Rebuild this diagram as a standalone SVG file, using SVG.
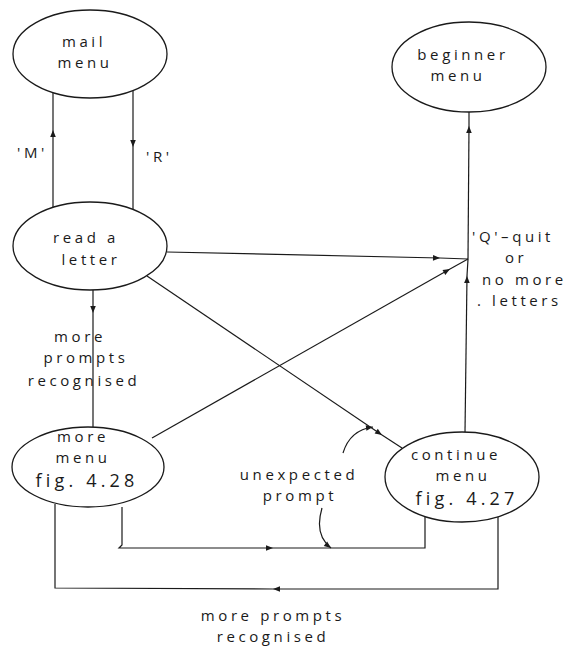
<svg xmlns="http://www.w3.org/2000/svg" width="576" height="646" viewBox="0 0 576 646">
<style>
.n{fill:#fff;stroke:#1a1a1a;stroke-width:1.3}
.c{fill:none;stroke:#1a1a1a;stroke-width:1.2}
.t{font-family:"Open Sans","DejaVu Sans",sans-serif;font-size:15px;fill:#1a1a1a;letter-spacing:3.6px;text-anchor:middle}
.f{font-size:18px;letter-spacing:4.2px}
.s{text-anchor:start}
</style>
<defs>
<marker id="arr" viewBox="0 0 10 10" refX="10" refY="5" markerWidth="10" markerHeight="7" orient="auto" markerUnits="userSpaceOnUse">
<path d="M0,1 L10,5 L0,9 z" fill="#1a1a1a"/>
</marker>
</defs>
<rect width="576" height="646" fill="#fff"/>
<g id="connectors">
<g id="read-mail"><path class="c" d="M53 208 L53 130" marker-end="url(#arr)"/><path class="c" d="M53 130 L53 93"/></g>
<g id="mail-read"><path class="c" d="M133 91 L133 147" marker-end="url(#arr)"/><path class="c" d="M133 147 L133 209"/></g>
<g id="read-quit"><path class="c" d="M167 252 L440 258" marker-end="url(#arr)"/><path class="c" d="M440 258 L468 259"/></g>
<g id="read-more"><path class="c" d="M93 290 L93 313" marker-end="url(#arr)"/><path class="c" d="M93 313 L93 427"/></g>
<g id="read-continue"><path class="c" d="M147 276 L382 435" marker-end="url(#arr)"/><path class="c" d="M382 435 L402 448"/></g>
<g id="more-quit"><path class="c" d="M152 438 L450 269" marker-end="url(#arr)"/><path class="c" d="M450 269 L468 259"/></g>
<g id="continue-quit"><path class="c" d="M465 432 L467 276" marker-end="url(#arr)"/><path class="c" d="M467 276 L468 259"/></g>
<g id="quit-beginner"><path class="c" d="M468 259 L469 126" marker-end="url(#arr)"/><path class="c" d="M469 126 L469 112"/></g>
<g id="more-continue"><path class="c" d="M122 507 L122 545 L119 548 L273 548" marker-end="url(#arr)"/><path class="c" d="M273 548 L425 548 L425 517"/></g>
<g id="continue-more"><path class="c" d="M498 516 L498 589 L273 589" marker-end="url(#arr)"/><path class="c" d="M273 589 L55 588 L55 504"/></g>
<g id="unexpected-pointers"><path class="c" d="M343 453 Q350 430 373 427" marker-end="url(#arr)"/><path class="c" d="M322 508 Q314 535 331 548" marker-end="url(#arr)"/></g>
</g>
<g id="mail-menu"><ellipse class="n" cx="90" cy="54" rx="77" ry="44"/><text class="t" x="84" y="47">mail</text><text class="t" x="85" y="68">menu</text></g>
<g id="beginner-menu"><ellipse class="n" cx="469" cy="67" rx="77" ry="45"/><text class="t" x="463" y="60">beginner</text><text class="t" x="458" y="81">menu</text></g>
<g id="read-letter"><ellipse class="n" cx="90" cy="246" rx="77" ry="44"/><text class="t" x="86" y="243">read  a</text><text class="t" x="91" y="265">letter</text></g>
<g id="more-menu"><ellipse class="n" cx="88" cy="467" rx="76" ry="40"/><text class="t" x="83" y="442">more</text><text class="t" x="83" y="463">menu</text><text class="t f" x="87" y="487">fig. 4.28</text></g>
<g id="continue-menu"><ellipse class="n" cx="462" cy="477" rx="77" ry="45"/><text class="t" x="456" y="460">continue</text><text class="t" x="463" y="481">menu</text><text class="t f" x="467" y="505">fig. 4.27</text></g>
<g id="labels">
<text class="t s" x="17" y="158">'M'</text>
<text class="t s" x="146" y="162">'R'</text>
<text class="t" x="80" y="342">more</text>
<text class="t" x="86" y="363">prompts</text>
<text class="t" x="84" y="386">recognised</text>
<text class="t s" x="472" y="242">'Q'–quit</text>
<text class="t s" x="505" y="263">or</text>
<text class="t s" x="482" y="285">no more</text>
<text class="t s" x="477" y="306">. letters</text>
<text class="t" x="299" y="480">unexpected</text>
<text class="t" x="300" y="501">prompt</text>
<text class="t" x="273" y="621">more  prompts</text>
<text class="t" x="273" y="642">recognised</text>
</g>
</svg>
